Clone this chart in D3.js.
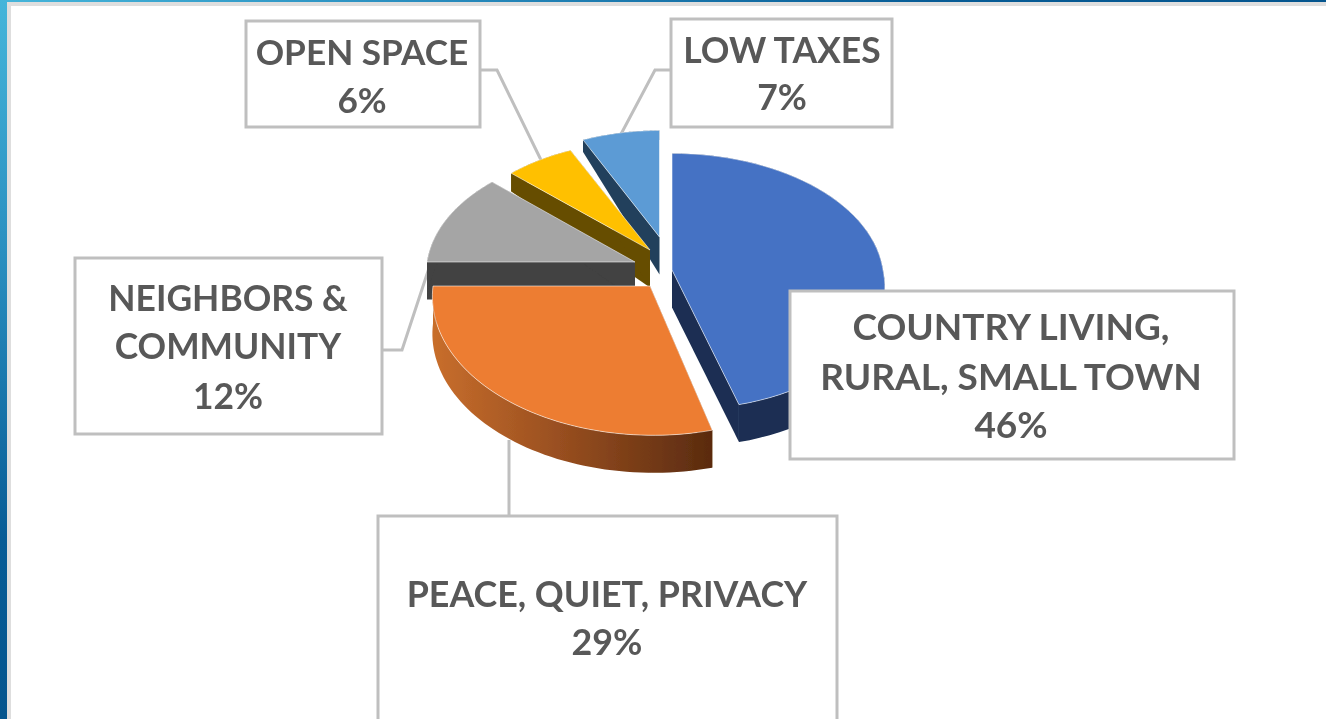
<!DOCTYPE html>
<html><head><meta charset="utf-8">
<script src="https://cdn.jsdelivr.net/npm/d3@7"></script>
<style>html,body{margin:0;padding:0;background:#fff;overflow:hidden}svg{display:block}</style>
</head><body><svg id="c" width="1326" height="719"></svg>
<script>
// data
const categories = ["COUNTRY LIVING, RURAL, SMALL TOWN","PEACE, QUIET, PRIVACY","NEIGHBORS & COMMUNITY","OPEN SPACE","LOW TAXES"];
const values = [46,29,12,6,7];
const labelLines = [["COUNTRY LIVING,","RURAL, SMALL TOWN"],["PEACE, QUIET, PRIVACY"],["NEIGHBORS &","COMMUNITY"],["OPEN SPACE"],["LOW TAXES"]];
// styles
const topColors = ["#4472c4","#ed7d31","#a5a5a5","#ffc000","#5b9bd5"];
const sideColors = ["#1a2d52","url(#orangeSide)","#424242","#664d00","#23405c"];
// layout: each slice's exploded apex and radii, back-to-front paint order
const sliceGeom = [
 {cx:672,cy:270,R:211,Ry:127,sk:9},
 {cx:650,cy:286,R:217,Ry:136,sk:3},
 {cx:635,cy:262,R:208,Ry:124,sk:0},
 {cx:650,cy:250,R:202,Ry:119,sk:0},
 {cx:659.5,cy:237,R:194,Ry:116,sk:0}];
const paintOrder = [4,3,2,0,1];
const boxes = [
 {x:790,y:291,w:444,h:168,tx:1011,ty:[327,377,425],fs:37},
 {x:378,y:516,w:459,h:230,tx:607,ty:[594,642],fs:35.8},
 {x:75,y:258,w:307,h:176,tx:228,ty:[298,346,396],fs:35.4},
 {x:246,y:21,w:234,h:106,tx:362,ty:[52,100],fs:35.2},
 {x:671,y:19,w:221,h:108,tx:782,ty:[50,97],fs:35.5}];
const leaders = [
 [],
 [[509,516],[509,440]],
 [[382,350],[402,350],[431,262]],
 [[480,70],[497,70],[541,160]],
 [[671,70],[655,70],[620,136]]];
const P = 0.089;

const svg = d3.select("#c");
const defs = svg.append("defs");
const bgL = defs.append("linearGradient").attr("id","stripV").attr("x1",0).attr("y1",0).attr("x2",0).attr("y2",1);
[["0%","#45b5da"],["35%","#2a8fc0"],["75%","#075c96"],["100%","#04558e"]].forEach(s=>bgL.append("stop").attr("offset",s[0]).attr("stop-color",s[1]));
const bgT = defs.append("linearGradient").attr("id","stripH");
[["0%","#45b5da"],["30%","#2a8fc0"],["70%","#075c96"],["100%","#04558e"]].forEach(s=>bgT.append("stop").attr("offset",s[0]).attr("stop-color",s[1]));
const og = defs.append("linearGradient").attr("id","orangeSide").attr("gradientUnits","userSpaceOnUse").attr("x1",433).attr("x2",712).attr("y1",0).attr("y2",0);
[["0%","#c86e2c"],["45%","#994f20"],["100%","#5a2b0f"]].forEach(s=>og.append("stop").attr("offset",s[0]).attr("stop-color",s[1]));
defs.append("filter").attr("id","soft").attr("x",0).attr("y",0).attr("width",1).attr("height",1).attr("filterUnits","userSpaceOnUse").attr("width",1326).attr("height",719).append("feGaussianBlur").attr("stdDeviation",0.7);

// window chrome
svg.append("rect").attr("x",7).attr("y",2).attr("width",1319).attr("height",4).attr("fill","#dedede");
svg.append("rect").attr("x",7).attr("y",2).attr("width",4).attr("height",717).attr("fill","#dedede");
svg.append("rect").attr("x",0).attr("y",0).attr("width",1326).attr("height",2).attr("fill","url(#stripH)");
svg.append("rect").attr("x",0).attr("y",0).attr("width",7).attr("height",719).attr("fill","url(#stripV)");

const g = svg.append("g").attr("filter","url(#soft)");
const pie = d3.pie().sort(null).value(d=>d);
const arcs = pie(values);

function proj(s,th,r=1){
  const u=Math.sin(th), v=-Math.cos(th), k=1/(1-P*v);
  return [s.cx+s.R*r*u*k+s.sk*Math.max(v,0)*k, s.cy+s.Ry*r*v*k, v];
}
function depth(v){return 37.5+28*Math.min(v,0);}
const line = d3.line();
function down(p){return [p[0],p[1]+depth(p[2])];}

// leader lines sit behind the slices
leaders.forEach(l=>{ if(l.length) g.append("path").attr("d",line(l)).attr("fill","none").attr("stroke","#bfbfbf").attr("stroke-width",3);});

paintOrder.forEach(i=>{
  const a=arcs[i], s=sliceGeom[i];
  const ths=d3.range(0,61).map(t=>a.startAngle+(a.endAngle-a.startAngle)*t/60);
  const rim=ths.map(t=>proj(s,t));
  const apex=[s.cx,s.cy,0];
  const sl=g.append("g").attr("class","slice");
  [a.startAngle,a.endAngle].forEach(t=>{
    const e=proj(s,t);
    sl.append("path").attr("d",line([apex,e,down(e),down(apex)].map(p=>p.slice(0,2)))+"Z").attr("fill",i==1?"#5a2b0f":sideColors[i]);
  });
  const rimPoly=rim.map(p=>p.slice(0,2)).concat(rim.slice().reverse().map(p=>down(p)));
  sl.append("path").attr("d",line(rimPoly)+"Z").attr("fill",sideColors[i]);
  const top=[[s.cx,s.cy]].concat(rim.map(p=>p.slice(0,2)));
  sl.append("path").attr("d",line(top)+"Z").attr("fill",topColors[i]).attr("stroke","#fff").attr("stroke-opacity",0.55).attr("stroke-width",1);
});

// labels
boxes.forEach((b,i)=>{
  const lb=g.append("g").attr("class","label");
  lb.append("rect").attr("x",b.x).attr("y",b.y).attr("width",b.w).attr("height",b.h).attr("fill","#fff").attr("stroke","#bfbfbf").attr("stroke-width",3);
  const lines=labelLines[i].concat([values[i]+"%"]);
  lines.forEach((t,j)=>lb.append("text").attr("x",b.tx).attr("y",b.ty[j]).attr("dy","0.36em").attr("text-anchor","middle")
    .attr("font-family","Lato, 'Open Sans', sans-serif").attr("font-weight",700).attr("font-size",b.fs).attr("fill","#595959").text(t));
});
</script></body></html>
